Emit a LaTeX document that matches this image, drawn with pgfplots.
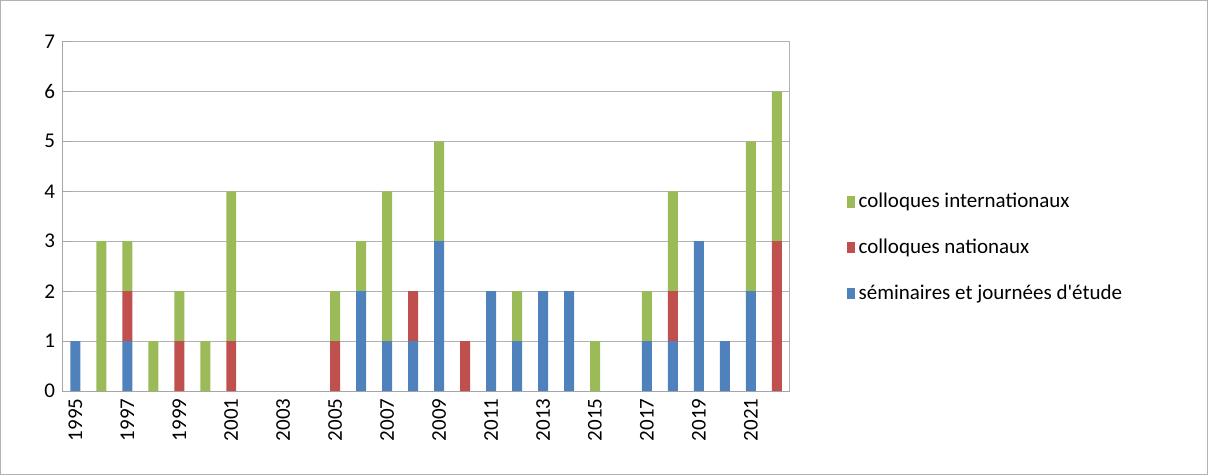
\documentclass[border=0pt]{standalone}
\usepackage{pgfplots}
\pgfplotsset{compat=1.18}
\usepackage{fontspec}
\setmainfont{Carlito}
\definecolor{cb}{HTML}{4F81BD}
\definecolor{cr}{HTML}{C0504D}
\definecolor{cg}{HTML}{9BBB59}
\begin{document}
\fontsize{10.5}{12}\selectfont
\begin{tikzpicture}
\draw[gray!60] (0,0) rectangle (604pt,237pt);
\begin{axis}[at={(31pt,41.5pt)}, anchor=south west, scale only axis,
 width=364pt, height=175pt, ybar stacked, bar width=5pt,
 xmin=-0.5, xmax=27.5, ymin=0, ymax=7, ytick={0,...,7},
 xtick={0,2,...,26}, xticklabels={1995,1997,1999,2001,2003,2005,2007,2009,2011,2013,2015,2017,2019,2021},
 xticklabel style={rotate=90, anchor=east}, 
 ymajorgrids, grid style={gray!60}, axis line style={gray!70},
 major tick style={gray!70}, xtick style={draw=none},
 axis x line*=bottom, axis y line*=left,
 tick label style={font=\fontsize{10.5}{12}\selectfont},
 /pgf/number format/assume math mode=true,
 legend style={at={(1.07,0.41)}, anchor=west, draw=none, row sep=10pt, font=\fontsize{10.5}{12}\selectfont, cells={anchor=west}},
 legend image code/.code={\fill[#1] (0,-0.1cm) rectangle (0.13cm,0.1cm);},
 reverse legend]
\addplot[fill=cb, draw=none] coordinates {(0,1)(1,0)(2,1)(3,0)(4,0)(5,0)(6,0)(7,0)(8,0)(9,0)(10,0)(11,2)(12,1)(13,1)(14,3)(15,0)(16,2)(17,1)(18,2)(19,2)(20,0)(21,0)(22,1)(23,1)(24,3)(25,1)(26,2)(27,0)};
\addplot[fill=cr, draw=none] coordinates {(0,0)(1,0)(2,1)(3,0)(4,1)(5,0)(6,1)(7,0)(8,0)(9,0)(10,1)(11,0)(12,0)(13,1)(14,0)(15,1)(16,0)(17,0)(18,0)(19,0)(20,0)(21,0)(22,0)(23,1)(24,0)(25,0)(26,0)(27,3)};
\addplot[fill=cg, draw=none] coordinates {(0,0)(1,3)(2,1)(3,1)(4,1)(5,1)(6,3)(7,0)(8,0)(9,0)(10,1)(11,1)(12,3)(13,0)(14,2)(15,0)(16,0)(17,1)(18,0)(19,0)(20,1)(21,0)(22,1)(23,2)(24,0)(25,0)(26,3)(27,3)};
\draw[gray!60] (axis cs:27.5,0) -- (axis cs:27.5,7);
\legend{séminaires et journées d\textquotesingle étude, colloques nationaux, colloques internationaux}
\end{axis}
\end{tikzpicture}
\end{document}
